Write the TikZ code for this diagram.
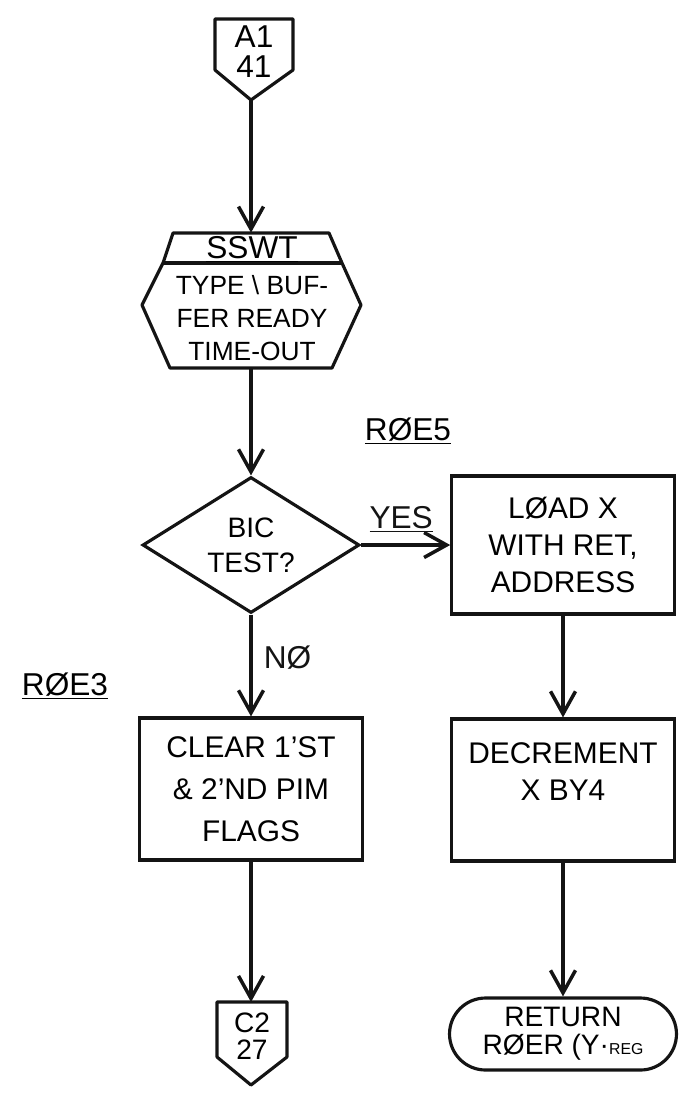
\documentclass[tikz,border=0pt]{standalone}
\usepackage{fontspec}
\setmainfont{Liberation Sans}
\definecolor{ink}{RGB}{20,20,20}
\usepackage{tikz}
\usetikzlibrary{arrows.meta,positioning,shapes.geometric}

\tikzset{
  flow/.style={ink, line width=2pt, -{Straight Barb[length=4.5mm,width=5mm]}},
  outline/.style={ink, line width=1.8pt, line join=round},
  procbox/.style={draw=ink, line width=1.8pt, minimum width=4.45cm, minimum height=2.84cm,
    align=center, inner sep=2pt, font=\fontsize{17}{24}\selectfont},
  decision/.style={diamond, draw=ink, line width=1.8pt, aspect=1.6, minimum width=4.34cm,
    minimum height=2.72cm, inner sep=0pt, align=center, font=\fontsize{16}{20}\selectfont},
  terminal/.style={draw=ink, line width=1.8pt, rounded corners=0.72cm, minimum width=4.54cm,
    minimum height=1.44cm, align=center, inner sep=1pt, font=\fontsize{16}{16}\selectfont},
  pagetag/.style={align=center, font=\fontsize{18}{17}\selectfont},
  tag/.style={font=\fontsize{18}{20}\selectfont}
}

\begin{document}
\begin{tikzpicture}[x=0.02cm, y=-0.02cm]
  \useasboundingbox (0,0) rectangle (687,1099);

  % entry connector
  \draw[outline] (215,19) -- (293,19) -- (293,70) -- (251,100) -- (215,70) -- cycle;
  \node[pagetag] (a1) at (254,52) {A1\\41};
  \coordinate (a1tip) at (251,100);

  % SSWT macro
  \node[minimum width=4.38cm, minimum height=2.7cm] (sswt) at (251,300.5) {};
  \draw[outline] (173,233) -- (329,233) -- (342,263) -- (361,305) -- (332,368)
    -- (170,368) -- (142,305) -- (163,263) -- cycle;
  \draw[outline] (163,263) -- (342,263);
  \node[font=\fontsize{18}{20}\selectfont] (sswtname) at (252,249) {\underline{SSWT}};
  \node[align=center, font=\fontsize{15}{19}\selectfont] (sswtbody) at (252,318)
    {TYPE \textbackslash\ BUF-\\FER READY\\TIME-OUT};

  \node[decision] (test) at (251,545) {BIC\\TEST?};

  \node[procbox, minimum height=2.76cm, font=\fontsize{17}{21}\selectfont] (load) at (563,545)
    {LØAD X\\WITH RET,\\ADDRESS};
  \node[procbox] (clear) at (251,789) {CLEAR 1'ST\\\& 2'ND PIM\\FLAGS};
  \node[procbox, font=\fontsize{17}{21}\selectfont] (dec) at (563,790)
    {DECREMENT\\X BY4\\\mbox{}};

  \draw[outline] (217,1002) -- (287,1002) -- (287,1057) -- (251,1085) -- (217,1057) -- cycle;
  \node[pagetag, font=\fontsize{16}{15}\selectfont] (c2) at (252,1036) {C2\\27};
  \coordinate (c2top) at (251,1002);

  \node[terminal] (ret) at (563,1034) {RETURN\\RØER (Y·{\small REG}};

  \node[tag] (roe5) at (408,431) {\underline{RØE5}};
  \node[tag] (roe3) at (65,686) {\underline{RØE3}};

  \draw[flow] (a1tip) -- (sswt.north);
  \draw[flow] (sswt.south) -- (test.north);
  \draw[flow] (test.east) -- (load.west) node[pos=0.45, above=3pt, tag] (yes) {\underline{YES}};
  \draw[flow] (test.south) -- (clear.north) node[pos=0.42, right=3pt, tag] (no) {NØ};
  \draw[flow] (load.south) -- (dec.north);
  \draw[flow] (clear.south) -- (c2top);
  \draw[flow] (dec.south) -- (ret.north);
\end{tikzpicture}
\end{document}
